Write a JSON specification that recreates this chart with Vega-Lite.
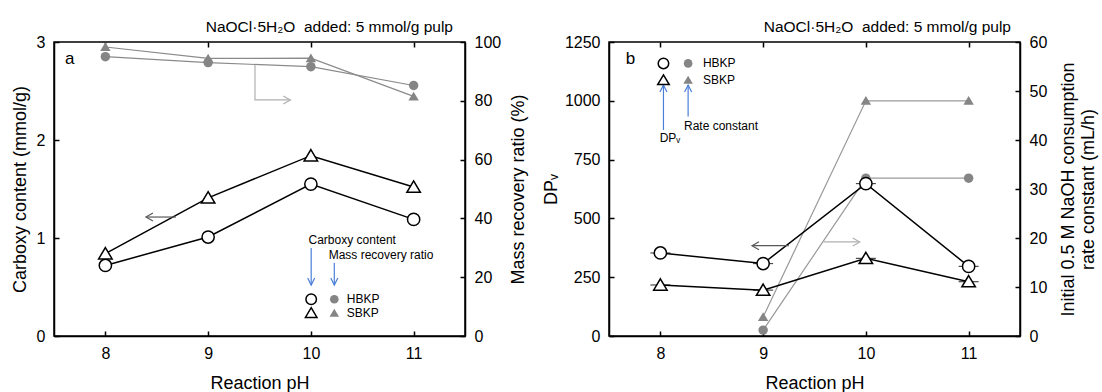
{
  "$schema": "https://vega.github.io/schema/vega-lite/v6.json",
  "autosize": {"type": "pad"},
  "padding": {"left": 10, "top": 18, "right": 4, "bottom": 0},
  "background": "white",
  "bounds": "flush",
  "spacing": 144,
  "config": {
    "font": "Liberation Sans",
    "view": {"stroke": "black", "strokeWidth": 1.5},
    "axis": {
      "grid": false, "domainColor": "black", "domainWidth": 1.5,
      "tickColor": "black", "tickWidth": 1.5, "tickSize": -5,
      "labelFontSize": 16, "labelColor": "black", "labelPadding": 14,
      "labelFont": "Liberation Sans", "titleFont": "Liberation Sans",
      "titleFontSize": 18, "titleFontWeight": "normal", "titleColor": "black"
    },
    "title": {"font": "Liberation Sans", "fontSize": 15.5, "fontWeight": "normal", "color": "black", "anchor": "end", "frame": "group", "baseline": "alphabetic", "offset": -1}
  },
  "datasets": {
    "a_main": [
      {"pH": 8, "pulp": "HBKP", "carboxy": 0.72, "mass": 95.0},
      {"pH": 9, "pulp": "HBKP", "carboxy": 1.01, "mass": 93.0},
      {"pH": 10, "pulp": "HBKP", "carboxy": 1.55, "mass": 91.6},
      {"pH": 11, "pulp": "HBKP", "carboxy": 1.19, "mass": 85.2},
      {"pH": 8, "pulp": "SBKP", "carboxy": 0.84, "mass": 98.3},
      {"pH": 9, "pulp": "SBKP", "carboxy": 1.41, "mass": 94.4},
      {"pH": 10, "pulp": "SBKP", "carboxy": 1.84, "mass": 94.5},
      {"pH": 11, "pulp": "SBKP", "carboxy": 1.52, "mass": 81.5}
    ],
    "a_arrows": [
      {"seg": "L_shaft", "ord": 1, "tone": "dark", "pH": 8.687, "carboxy": 1.214},
      {"seg": "L_shaft", "ord": 2, "tone": "dark", "pH": 8.395, "carboxy": 1.214},
      {"seg": "L_head", "ord": 1, "tone": "dark", "pH": 8.463, "carboxy": 1.255},
      {"seg": "L_head", "ord": 2, "tone": "dark", "pH": 8.395, "carboxy": 1.214},
      {"seg": "L_head", "ord": 3, "tone": "dark", "pH": 8.463, "carboxy": 1.173},
      {"seg": "M_shaft", "ord": 1, "tone": "light", "pH": 9.456, "carboxy": 2.766},
      {"seg": "M_shaft", "ord": 2, "tone": "light", "pH": 9.456, "carboxy": 2.409},
      {"seg": "M_shaft", "ord": 3, "tone": "light", "pH": 9.8, "carboxy": 2.409},
      {"seg": "M_head", "ord": 1, "tone": "light", "pH": 9.732, "carboxy": 2.45},
      {"seg": "M_head", "ord": 2, "tone": "light", "pH": 9.8, "carboxy": 2.409},
      {"seg": "M_head", "ord": 3, "tone": "light", "pH": 9.732, "carboxy": 2.368},
      {"seg": "B1_shaft", "ord": 1, "tone": "blue", "pH": 10.003, "carboxy": 0.898},
      {"seg": "B1_shaft", "ord": 2, "tone": "blue", "pH": 10.003, "carboxy": 0.52},
      {"seg": "B1_head", "ord": 1, "tone": "blue", "pH": 9.969, "carboxy": 0.591},
      {"seg": "B1_head", "ord": 2, "tone": "blue", "pH": 10.003, "carboxy": 0.52},
      {"seg": "B1_head", "ord": 3, "tone": "blue", "pH": 10.037, "carboxy": 0.591},
      {"seg": "B2_shaft", "ord": 1, "tone": "blue", "pH": 10.228, "carboxy": 0.748},
      {"seg": "B2_shaft", "ord": 2, "tone": "blue", "pH": 10.228, "carboxy": 0.52},
      {"seg": "B2_head", "ord": 1, "tone": "blue", "pH": 10.194, "carboxy": 0.591},
      {"seg": "B2_head", "ord": 2, "tone": "blue", "pH": 10.228, "carboxy": 0.52},
      {"seg": "B2_head", "ord": 3, "tone": "blue", "pH": 10.262, "carboxy": 0.591}
    ],
    "a_legend_pts": [
      {"pH": 10.003, "carboxy": 0.375, "pulp": "HBKP", "style": "open"},
      {"pH": 10.228, "carboxy": 0.375, "pulp": "HBKP", "style": "filled"},
      {"pH": 10.003, "carboxy": 0.235, "pulp": "SBKP", "style": "open"},
      {"pH": 10.228, "carboxy": 0.235, "pulp": "SBKP", "style": "filled"}
    ],
    "a_text": [
      {"pH": 9.977, "carboxy": 0.98, "label": "Carboxy content"},
      {"pH": 10.173, "carboxy": 0.827, "label": "Mass recovery ratio"},
      {"pH": 10.35, "carboxy": 0.375, "label": "HBKP"},
      {"pH": 10.35, "carboxy": 0.235, "label": "SBKP"}
    ],
    "a_letter": [{"pH": 7.653, "carboxy": 2.823, "label": "a"}],
    "b_main": [
      {"pH": 8, "pulp": "HBKP", "dp": 353, "rate": null},
      {"pH": 9, "pulp": "HBKP", "dp": 308, "rate": 1.2},
      {"pH": 10, "pulp": "HBKP", "dp": 648, "rate": 32.2},
      {"pH": 11, "pulp": "HBKP", "dp": 296, "rate": 32.2},
      {"pH": 8, "pulp": "SBKP", "dp": 217, "rate": null},
      {"pH": 9, "pulp": "SBKP", "dp": 195, "rate": 3.9},
      {"pH": 10, "pulp": "SBKP", "dp": 330, "rate": 48.0},
      {"pH": 11, "pulp": "SBKP", "dp": 231, "rate": 48.0}
    ],
    "b_arrows": [
      {"seg": "L_shaft", "ord": 1, "tone": "dark", "pH": 9.25, "dp": 384},
      {"seg": "L_shaft", "ord": 2, "tone": "dark", "pH": 8.892, "dp": 384},
      {"seg": "L_head", "ord": 1, "tone": "dark", "pH": 8.96, "dp": 401},
      {"seg": "L_head", "ord": 2, "tone": "dark", "pH": 8.892, "dp": 384},
      {"seg": "L_head", "ord": 3, "tone": "dark", "pH": 8.96, "dp": 367},
      {"seg": "R_shaft", "ord": 1, "tone": "light", "pH": 9.589, "dp": 400},
      {"seg": "R_shaft", "ord": 2, "tone": "light", "pH": 9.94, "dp": 400},
      {"seg": "R_head", "ord": 1, "tone": "light", "pH": 9.872, "dp": 417},
      {"seg": "R_head", "ord": 2, "tone": "light", "pH": 9.94, "dp": 400},
      {"seg": "R_head", "ord": 3, "tone": "light", "pH": 9.872, "dp": 383},
      {"seg": "B1_shaft", "ord": 1, "tone": "blue", "pH": 8.03, "dp": 876},
      {"seg": "B1_shaft", "ord": 2, "tone": "blue", "pH": 8.03, "dp": 1067},
      {"seg": "B1_head", "ord": 1, "tone": "blue", "pH": 7.996, "dp": 1037},
      {"seg": "B1_head", "ord": 2, "tone": "blue", "pH": 8.03, "dp": 1067},
      {"seg": "B1_head", "ord": 3, "tone": "blue", "pH": 8.064, "dp": 1037},
      {"seg": "B2_shaft", "ord": 1, "tone": "blue", "pH": 8.27, "dp": 933},
      {"seg": "B2_shaft", "ord": 2, "tone": "blue", "pH": 8.27, "dp": 1067},
      {"seg": "B2_head", "ord": 1, "tone": "blue", "pH": 8.236, "dp": 1037},
      {"seg": "B2_head", "ord": 2, "tone": "blue", "pH": 8.27, "dp": 1067},
      {"seg": "B2_head", "ord": 3, "tone": "blue", "pH": 8.304, "dp": 1037}
    ],
    "b_legend_pts": [
      {"pH": 8.03, "dp": 1159, "pulp": "HBKP", "style": "open"},
      {"pH": 8.27, "dp": 1159, "pulp": "HBKP", "style": "filled"},
      {"pH": 8.03, "dp": 1088, "pulp": "SBKP", "style": "open"},
      {"pH": 8.27, "dp": 1088, "pulp": "SBKP", "style": "filled"}
    ],
    "b_text": [
      {"pH": 8.414, "dp": 1159, "label": "HBKP"},
      {"pH": 8.414, "dp": 1088, "label": "SBKP"},
      {"pH": 8.23, "dp": 893, "label": "Rate constant"},
      {"pH": 7.993, "dp": 842, "label": "DPᵥ"}
    ],
    "b_letter": [{"pH": 7.709, "dp": 1176, "label": "b"}]
  },
  "hconcat": [
    {
      "width": 411, "height": 294,
      "title": {"text": "NaOCl·5H₂O\u00a0 added: 5 mmol/g pulp", "dx": -12},
      "resolve": {"scale": {"y": "independent"}, "axis": {"x": "independent"}},
      "layer": [
        {
          "data": {"name": "a_main"},
          "encoding": {
            "x": {"field": "pH", "type": "quantitative", "scale": {"domain": [7.5, 11.5], "nice": false, "zero": false}, "axis": {"orient": "top", "values": [8, 9, 10, 11], "labels": false, "title": null, "domain": false}},
            "y": {"field": "mass", "type": "quantitative", "scale": {"domain": [0, 100], "nice": false}, "axis": {"orient": "right", "values": [0, 20, 40, 60, 80, 100], "title": "Mass recovery ratio (%)", "titleAngle": -90, "titleBaseline": "top", "titlePadding": 9}}
          },
          "layer": [
            {"mark": {"type": "line", "color": "#8a8a8a", "strokeWidth": 1.2}, "encoding": {"detail": {"field": "pulp"}}},
            {"mark": {"type": "point", "filled": true, "color": "#858585", "opacity": 1, "size": 90},
             "encoding": {"shape": {"field": "pulp", "scale": {"domain": ["HBKP", "SBKP"], "range": ["circle", "M0,-1L1.1,0.85L-1.1,0.85Z"]}, "legend": null}}}
          ]
        },
        {
          "encoding": {
            "x": {"field": "pH", "type": "quantitative", "scale": {"domain": [7.5, 11.5], "nice": false, "zero": false}, "axis": {"orient": "bottom", "values": [8, 9, 10, 11], "title": "Reaction pH", "titlePadding": 13}},
            "y": {"field": "carboxy", "type": "quantitative", "scale": {"domain": [0, 3], "nice": false}, "axis": {"orient": "left", "values": [0, 1, 2, 3], "title": "Carboxy content (mmol/g)", "titlePadding": 7}}
          },
          "layer": [
            {"data": {"name": "a_main"}, "mark": {"type": "line", "color": "black", "strokeWidth": 1.5}, "encoding": {"detail": {"field": "pulp"}}},
            {"data": {"name": "a_main"}, "mark": {"type": "point", "fill": "white", "stroke": "black", "strokeWidth": 1.5, "opacity": 1, "size": 150},
             "encoding": {"shape": {"field": "pulp", "scale": {"domain": ["HBKP", "SBKP"], "range": ["circle", "M0,-1L1.1,0.85L-1.1,0.85Z"]}, "legend": null}}},
            {"data": {"name": "a_arrows"}, "mark": {"type": "line", "strokeWidth": 1.2},
             "encoding": {"detail": {"field": "seg"}, "order": {"field": "ord"}, "color": {"field": "tone", "scale": {"domain": ["dark", "light", "blue"], "range": ["#5a5a5a", "#b0b0b0", "#4a7fd8"]}, "legend": null}}},
            {"data": {"name": "a_legend_pts"}, "transform": [{"filter": "datum.style == 'open'"}],
             "mark": {"type": "point", "fill": "white", "stroke": "black", "strokeWidth": 1.5, "opacity": 1, "size": 110},
             "encoding": {"shape": {"field": "pulp", "scale": {"domain": ["HBKP", "SBKP"], "range": ["circle", "M0,-1L1.1,0.85L-1.1,0.85Z"]}, "legend": null}}},
            {"data": {"name": "a_legend_pts"}, "transform": [{"filter": "datum.style == 'filled'"}],
             "mark": {"type": "point", "filled": true, "color": "#858585", "opacity": 1, "size": 75},
             "encoding": {"shape": {"field": "pulp", "scale": {"domain": ["HBKP", "SBKP"], "range": ["circle", "M0,-1L1.1,0.85L-1.1,0.85Z"]}, "legend": null}}},
            {"data": {"name": "a_text"}, "mark": {"type": "text", "align": "left", "baseline": "middle", "fontSize": 12, "color": "black"},
             "encoding": {"text": {"field": "label"}}},
            {"data": {"name": "a_letter"}, "mark": {"type": "text", "align": "center", "baseline": "middle", "fontSize": 17, "color": "black"},
             "encoding": {"text": {"field": "label"}}}
          ]
        }
      ]
    },
    {
      "width": 411, "height": 294,
      "title": {"text": "NaOCl·5H₂O\u00a0 added: 5 mmol/g pulp", "dx": -9},
      "resolve": {"scale": {"y": "independent"}, "axis": {"x": "independent"}},
      "layer": [
        {
          "data": {"name": "b_main"},
          "encoding": {
            "x": {"field": "pH", "type": "quantitative", "scale": {"domain": [7.5, 11.5], "nice": false, "zero": false}, "axis": {"orient": "top", "values": [8, 9, 10, 11], "labels": false, "title": null, "domain": false}},
            "y": {"field": "rate", "type": "quantitative", "scale": {"domain": [0, 60], "nice": false}, "axis": {"orient": "right", "values": [0, 10, 20, 30, 40, 50, 60], "title": ["Initial 0.5 M NaOH consumption", "rate constant (mL/h)"], "titleAngle": -90, "titleBaseline": "top", "titlePadding": -7, "titleLineHeight": 20}}
          },
          "layer": [
            {"mark": {"type": "line", "color": "#999999", "strokeWidth": 1.2}, "encoding": {"detail": {"field": "pulp"}}},
            {"mark": {"type": "point", "filled": true, "color": "#858585", "opacity": 1, "size": 90},
             "encoding": {"shape": {"field": "pulp", "scale": {"domain": ["HBKP", "SBKP"], "range": ["circle", "M0,-1L1.1,0.85L-1.1,0.85Z"]}, "legend": null}}}
          ]
        },
        {
          "encoding": {
            "x": {"field": "pH", "type": "quantitative", "scale": {"domain": [7.5, 11.5], "nice": false, "zero": false}, "axis": {"orient": "bottom", "values": [8, 9, 10, 11], "title": "Reaction pH", "titlePadding": 13}},
            "y": {"field": "dp", "type": "quantitative", "scale": {"domain": [0, 1250], "nice": false}, "axis": {"orient": "left", "values": [0, 250, 500, 750, 1000, 1250], "format": "d", "title": "DPᵥ", "titlePadding": 4}}
          },
          "layer": [
            {"data": {"name": "b_main"}, "mark": {"type": "line", "color": "black", "strokeWidth": 1.5}, "encoding": {"detail": {"field": "pulp"}}},
            {"data": {"name": "b_main"}, "mark": {"type": "tick", "orient": "horizontal", "color": "black", "size": 20, "thickness": 1.2}},
            {"data": {"name": "b_main"}, "mark": {"type": "point", "fill": "white", "stroke": "black", "strokeWidth": 1.5, "opacity": 1, "size": 150},
             "encoding": {"shape": {"field": "pulp", "scale": {"domain": ["HBKP", "SBKP"], "range": ["circle", "M0,-1L1.1,0.85L-1.1,0.85Z"]}, "legend": null}}},
            {"data": {"name": "b_arrows"}, "mark": {"type": "line", "strokeWidth": 1.2},
             "encoding": {"detail": {"field": "seg"}, "order": {"field": "ord"}, "color": {"field": "tone", "scale": {"domain": ["dark", "light", "blue"], "range": ["#5a5a5a", "#b0b0b0", "#4a7fd8"]}, "legend": null}}},
            {"data": {"name": "b_legend_pts"}, "transform": [{"filter": "datum.style == 'open'"}],
             "mark": {"type": "point", "fill": "white", "stroke": "black", "strokeWidth": 1.5, "opacity": 1, "size": 110},
             "encoding": {"shape": {"field": "pulp", "scale": {"domain": ["HBKP", "SBKP"], "range": ["circle", "M0,-1L1.1,0.85L-1.1,0.85Z"]}, "legend": null}}},
            {"data": {"name": "b_legend_pts"}, "transform": [{"filter": "datum.style == 'filled'"}],
             "mark": {"type": "point", "filled": true, "color": "#858585", "opacity": 1, "size": 75},
             "encoding": {"shape": {"field": "pulp", "scale": {"domain": ["HBKP", "SBKP"], "range": ["circle", "M0,-1L1.1,0.85L-1.1,0.85Z"]}, "legend": null}}},
            {"data": {"name": "b_text"}, "mark": {"type": "text", "align": "left", "baseline": "middle", "fontSize": 12, "color": "black"},
             "encoding": {"text": {"field": "label"}}},
            {"data": {"name": "b_letter"}, "mark": {"type": "text", "align": "center", "baseline": "middle", "fontSize": 17, "color": "black"},
             "encoding": {"text": {"field": "label"}}}
          ]
        }
      ]
    }
  ]
}
